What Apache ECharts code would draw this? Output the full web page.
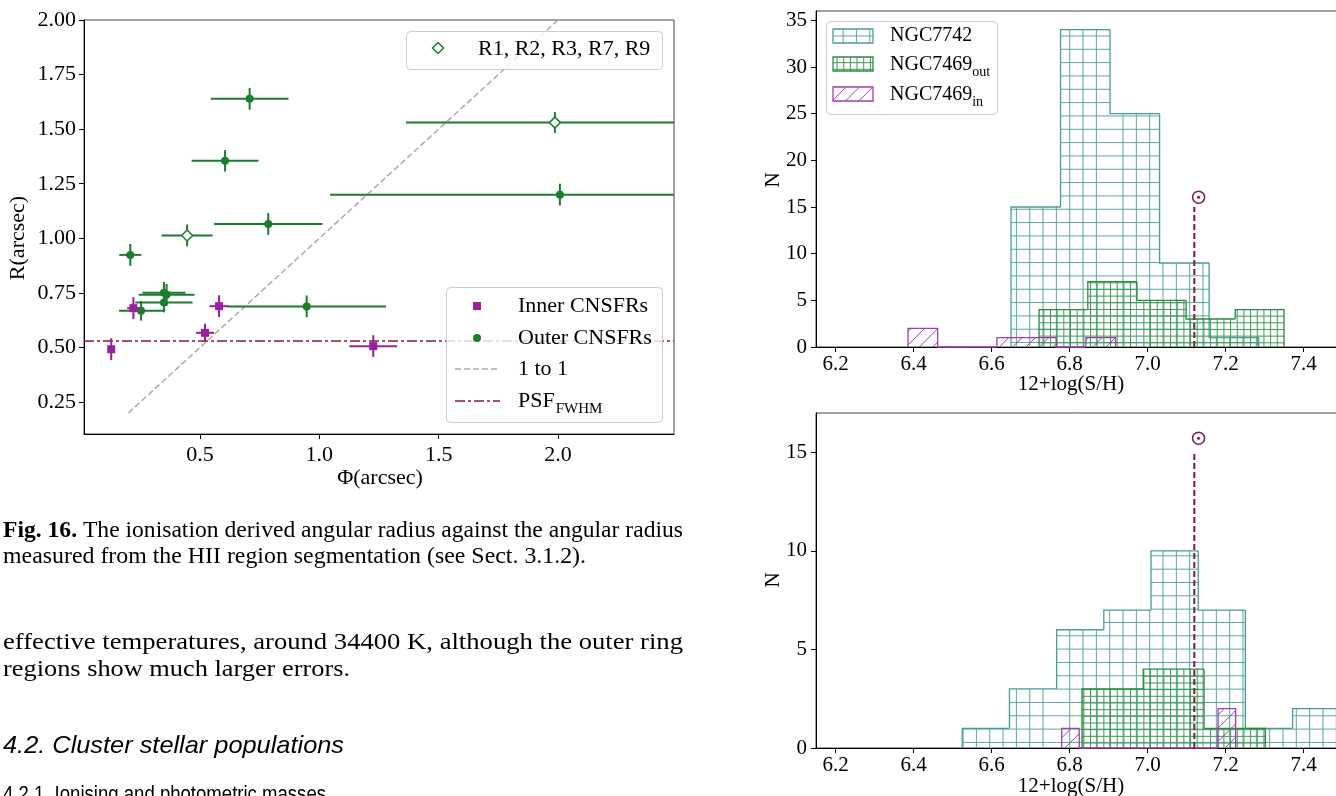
<!DOCTYPE html>
<html><head><meta charset="utf-8">
<script src="https://cdn.jsdelivr.net/npm/echarts@6/dist/echarts.min.js"></script>
<style>html,body{margin:0;padding:0;background:#fff}#c{width:1336px;height:796px}</style>
</head><body><div id="c"></div>
<script>
// ---------------- DATA: left scatter (Fig. 16) ----------------
const outerX    = [0.708, 0.605, 0.786, 2.008, 0.208, 0.349, 0.360, 0.349, 0.253, 0.947];
const outerY    = [1.639, 1.355, 1.066, 1.200, 0.924, 0.750, 0.741, 0.706, 0.668, 0.688];
const outerXErr = [0.163, 0.140, 0.227, 0.963, 0.046, 0.090, 0.117, 0.120, 0.092, 0.332];
const outerYErr = [0.050, 0.049, 0.050, 0.050, 0.050, 0.050, 0.050, 0.045, 0.045, 0.050];
const openX     = [0.446, 1.987];
const openY     = [1.013, 1.530];
const openXErr  = [0.107, 0.624];
const openYErr  = [0.050, 0.048];
const innerX    = [0.128, 0.221, 0.521, 0.580, 1.226];
const innerY    = [0.492, 0.680, 0.567, 0.689, 0.506];
const innerXErr = [0.000, 0.026, 0.038, 0.040, 0.100];
const innerYErr = [0.050, 0.050, 0.042, 0.050, 0.050];
const oneToOneX = [0.2, 2.5];
const oneToOneY = [0.2, 2.5];
const psfX      = [0.014, 2.486];
const psfY      = 0.53;
const scatterXTicks = [0.5, 1.0, 1.5, 2.0];
const scatterYTicks = [0.25, 0.50, 0.75, 1.00, 1.25, 1.50, 1.75, 2.00];
const scatterXRange = [0.014, 2.486];
const scatterYRange = [0.1035, 2.0];

// ---------------- DATA: histograms ----------------
const histXTicks = [6.2, 6.4, 6.6, 6.8, 7.0, 7.2, 7.4];
const histXRange = [6.15, 7.55];
const topYTicks = [0, 5, 10, 15, 20, 25, 30, 35];
const topYRange = [0, 36];
const botYTicks = [0, 5, 10, 15];
const botYRange = [0, 17];
// top panel
const topTealEdges = [6.650, 6.777, 6.904, 7.031, 7.158, 7.285];
const topTealCounts = [15, 34, 25, 9, 1];
const topGreenEdges = [6.722, 6.847, 6.973, 7.099, 7.225, 7.350];
const topGreenCounts = [4, 7, 5, 3, 4];
const topMagEdges = [6.386, 6.462, 6.538, 6.614, 6.690, 6.766, 6.842, 6.918];
const topMagCounts = [2, 0, 0, 1, 1, 0, 1];
// bottom panel
const botTealEdges = [6.525, 6.646, 6.767, 6.888, 7.009, 7.130, 7.251, 7.372, 7.493];
const botTealCounts = [1, 3, 6, 7, 10, 7, 1, 2];
const botGreenEdges = [6.832, 6.989, 7.145, 7.302];
const botGreenCounts = [3, 4, 1];
const botMagEdges = [6.780, 6.825, 6.869, 6.914, 6.958, 7.003, 7.048, 7.092, 7.137, 7.181, 7.226];
const botMagCounts = [1, 0, 0, 0, 0, 0, 0, 0, 0, 2];
// solar value
const sunX = 7.12;
const sunLineTop = 15;
const sunMarkX = 7.131;
const sunMarkYTop = 16.05;
const sunMarkYBot = 15.72;

// ---------------- styles ----------------
const GREEN = '#1c7c2e', MAG = '#9a1f9c', PSFC = '#8b1a3d', GREY = '#aaaaaa';
const TEAL = '#4a9d95', TEALH = '#5aa8a0', HGREEN = '#2f8a41', HGREENH = '#3f9a50', HMAG = '#a53cb0';
const SUN = '#7b1d3f';
const SERIF = '"Liberation Serif", "Times New Roman", serif';

const mctx = document.createElement('canvas').getContext('2d');
function tw(text, font) { mctx.font = font; return mctx.measureText(text).width; }

function hatchSegs(x0, x1, yt, yb, type, s) {
  const xo = 3.3, yo = 9.3, out = [];
  if (type === 'grid') {
    for (let x = Math.ceil((x0 - xo) / s) * s + xo; x < x1 - 0.5; x += s) {
      if (x <= x0 + 0.5) continue;
      out.push([x, yt, x, yb]);
    }
    for (let y = Math.ceil((yt - yo) / s) * s + yo; y < yb - 0.5; y += s) {
      if (y <= yt + 0.5) continue;
      out.push([x0, y, x1, y]);
    }
  } else {
    for (let c = Math.ceil((x0 + yt) / s) * s; c < x1 + yb; c += s) {
      const xa = Math.max(x0, c - yb), xb = Math.min(x1, c - yt);
      if (xb - xa > 0.5) out.push([xa, c - xa, xb, c - xb]);
    }
  }
  return out;
}

function histItems(edges, counts) {
  return counts.map((c, i) => [edges[i], edges[i + 1], c, i > 0 ? counts[i - 1] : 0, i === counts.length - 1 ? 1 : 0]);
}
function histRender(color, hcolor, type, s) {
  return function (params, api) {
    const lo = api.value(0), hi = api.value(1), c = api.value(2), prev = api.value(3), last = api.value(4);
    const pb = api.coord([lo, 0]), pt = api.coord([hi, c]), pp = api.coord([lo, prev]);
    const x0 = pb[0], x1 = pt[0], yb = pb[1], yt = pt[1];
    const pts = [[x0, pp[1]], [x0, yt], [x1, yt]];
    if (last) pts.push([x1, yb]);
    const children = [];
    if (c > 0) hatchSegs(x0, x1, yt, yb, type, s).forEach(g => children.push({ type: 'line', shape: { x1: g[0], y1: g[1], x2: g[2], y2: g[3] }, style: { stroke: hcolor, lineWidth: 1 } }));
    children.push({ type: 'polyline', shape: { points: pts }, style: { stroke: color, lineWidth: 1.3, fill: null } });
    return { type: 'group', children };
  };
}

function errItems(xs, ys, xe, ye) { return xs.map((x, i) => [x, ys[i], xe[i], ye[i]]); }
function errRender(color) {
  return function (params, api) {
    const x = api.value(0), y = api.value(1), ex = api.value(2), ey = api.value(3);
    const a = api.coord([x - ex, y]), b = api.coord([x + ex, y]), c = api.coord([x, y - ey]), d = api.coord([x, y + ey]);
    const ch = [];
    if (ex > 0) ch.push({ type: 'line', shape: { x1: a[0], y1: a[1], x2: b[0], y2: b[1] }, style: { stroke: color, lineWidth: 2 } });
    ch.push({ type: 'line', shape: { x1: c[0], y1: c[1], x2: d[0], y2: d[1] }, style: { stroke: color, lineWidth: 2 } });
    return { type: 'group', children: ch };
  };
}

function xAx(gi, range, ticks, digits, fs, margin) {
  return {
    type: 'value', gridIndex: gi, min: range[0], max: range[1], splitLine: { show: false },
    axisLine: { show: true, onZero: false, lineStyle: { color: '#000', width: 1 } },
    axisTick: { show: true, inside: false, length: 5, customValues: ticks, lineStyle: { color: '#000', width: 1 } },
    axisLabel: { show: true, customValues: ticks, formatter: v => (+v).toFixed(digits), color: '#000', fontSize: fs, fontFamily: SERIF, margin: margin }
  };
}
const yAx = xAx;

// ---------------- graphic (text, legends) ----------------
function T(text, x, y, o) {
  o = o || {};
  return {
    type: 'text', x: x, y: y, rotation: o.rot || 0, scaleX: o.sx || 1, silent: true, z: 100,
    style: { text: text, fill: '#000', font: o.font || ('22px ' + SERIF),
      textAlign: o.align || 'left', align: o.align || 'left',
      textVerticalAlign: o.va || 'middle', verticalAlign: o.va || 'middle' }
  };
}
const G = [];
G.push(T('R(arcsec)', 18, 238, { rot: Math.PI / 2, align: 'center' }));
G.push(T('Φ(arcsec)', 380, 478, { align: 'center' }));
G.push(T('N', 773, 180, { rot: Math.PI / 2, align: 'center', font: '21px ' + SERIF }));
G.push(T('N', 773, 580, { rot: Math.PI / 2, align: 'center', font: '21px ' + SERIF }));
G.push(T('12+log(S/H)', 1071, 384, { align: 'center', font: '21px ' + SERIF }));
G.push(T('12+log(S/H)', 1071, 786, { align: 'center', font: '21px ' + SERIF }));

// left legends
G.push({ type: 'rect', z: 90, silent: true, shape: { x: 406.5, y: 31.5, width: 256, height: 38, r: 4 }, style: { fill: 'rgba(255,255,255,0.8)', stroke: '#cccccc', lineWidth: 1 } });
G.push({ type: 'polygon', z: 95, silent: true, shape: { points: [[438, 42.5], [443.5, 48], [438, 53.5], [432.5, 48]] }, style: { fill: '#fff', stroke: GREEN, lineWidth: 1.5 } });
G.push(T('R1, R2, R3, R7, R9', 478, 49));
G.push({ type: 'rect', z: 90, silent: true, shape: { x: 446.5, y: 287.5, width: 216, height: 135, r: 4 }, style: { fill: 'rgba(255,255,255,0.8)', stroke: '#cccccc', lineWidth: 1 } });
G.push({ type: 'rect', z: 95, silent: true, shape: { x: 473, y: 302, width: 8, height: 8 }, style: { fill: MAG } });
G.push({ type: 'circle', z: 95, silent: true, shape: { cx: 477, cy: 338, r: 4 }, style: { fill: GREEN } });
G.push({ type: 'line', z: 95, silent: true, shape: { x1: 455, y1: 369, x2: 500, y2: 369 }, style: { stroke: GREY, lineWidth: 1.5, lineDash: [6, 3] } });
G.push({ type: 'line', z: 95, silent: true, shape: { x1: 455, y1: 401, x2: 500, y2: 401 }, style: { stroke: PSFC, lineWidth: 1.5, lineDash: [10, 3, 3, 3] } });
G.push(T('Inner CNSFRs', 518, 306));
G.push(T('Outer CNSFRs', 518, 338));
G.push(T('1 to 1', 518, 369));
G.push(T('PSF', 518, 401));
G.push(T('FWHM', 518 + tw('PSF', '22px ' + SERIF) + 1, 409, { font: '15px ' + SERIF }));

// histogram legend
G.push({ type: 'rect', z: 90, silent: true, shape: { x: 826.5, y: 21.5, width: 171, height: 93, r: 4 }, style: { fill: 'rgba(255,255,255,0.8)', stroke: '#cccccc', lineWidth: 1 } });
[[29, TEAL, TEALH, 'grid', 13.33], [57, HGREEN, HGREENH, 'grid', 6.67], [87, HMAG, HMAG, 'diag', 13.33]].forEach(r => {
  hatchSegs(833, 873, r[0], r[0] + 14, r[3], r[4]).forEach(g => G.push({ type: 'line', z: 95, silent: true, shape: { x1: g[0], y1: g[1], x2: g[2], y2: g[3] }, style: { stroke: r[2], lineWidth: 1 } }));
  G.push({ type: 'rect', z: 96, silent: true, shape: { x: 833, y: r[0], width: 40, height: 14 }, style: { stroke: r[1], lineWidth: 1.3, fill: 'transparent' } });
});
const LF = '20px ' + SERIF;
G.push(T('NGC7742', 890, 36, { font: LF }));
G.push(T('NGC7469', 890, 64.5, { font: LF }));
G.push(T('out', 890 + tw('NGC7469', LF), 72, { font: '14px ' + SERIF }));
G.push(T('NGC7469', 890, 94.5, { font: LF }));
G.push(T('in', 890 + tw('NGC7469', LF), 102, { font: '14px ' + SERIF }));

// page text
const CF = '23px ' + SERIF, CFB = 'bold 23px ' + SERIF;
(function () {
  const b = 'Fig. 16.', r = ' The ionisation derived angular radius against the angular radius';
  const wb = tw(b, CFB), wr = tw(r, CF), sx = 680 / (wb + wr);
  G.push(T(b, 3, 531, { font: CFB, sx: sx }));
  G.push(T(r, 3 + wb * sx, 531, { font: CF, sx: sx }));
})();
function line(text, x, y, font, target) { G.push(T(text, x, y, { font: font, sx: target / tw(text, font) })); }
line('measured from the HII region segmentation (see Sect. 3.1.2).', 3, 557, CF, 583);
line('effective temperatures, around 34400 K, although the outer ring', 3, 643, CF, 680);
line('regions show much larger errors.', 3, 670, CF, 347);
line('4.2. Cluster stellar populations', 3, 746, 'italic 24px "Liberation Sans", sans-serif', 341);
line('4.2.1. Ionising and photometric masses', 3, 795, '22px "Liberation Sans", sans-serif', 323);

// ---------------- option ----------------
const gridCommon = { show: true, borderColor: '#444', borderWidth: 1, backgroundColor: 'transparent', containLabel: false, outerBoundsMode: 'none' };
const option = {
  animation: false,
  backgroundColor: '#fff',
  grid: [
    Object.assign({ left: 84, top: 20, width: 590, height: 414 }, gridCommon),
    Object.assign({ left: 816, top: 11, width: 546, height: 336 }, gridCommon),
    Object.assign({ left: 816, top: 413, width: 546, height: 335 }, gridCommon)
  ],
  xAxis: [
    xAx(0, scatterXRange, scatterXTicks, 1, 22, 10),
    xAx(1, histXRange, histXTicks, 1, 21, 7),
    xAx(2, histXRange, histXTicks, 1, 21, 7)
  ],
  yAxis: [
    yAx(0, scatterYRange, scatterYTicks, 2, 22, 8),
    yAx(1, topYRange, topYTicks, 0, 21, 9),
    yAx(2, botYRange, botYTicks, 0, 21, 9)
  ],
  graphic: { elements: G },
  series: [
    { type: 'line', xAxisIndex: 0, yAxisIndex: 0, z: 1, silent: true, symbol: 'none', clip: true,
      data: oneToOneX.map((x, i) => [x, oneToOneY[i]]), lineStyle: { color: GREY, width: 1.5, type: [6, 3] } },
    { type: 'line', xAxisIndex: 0, yAxisIndex: 0, z: 1, silent: true, symbol: 'none', clip: true,
      data: psfX.map(x => [x, psfY]), lineStyle: { color: PSFC, width: 1.5, type: [10, 3, 3, 3] } },
    { type: 'custom', xAxisIndex: 0, yAxisIndex: 0, z: 2, silent: true, clip: true, encode: { x: 0, y: 1 },
      data: errItems(outerX, outerY, outerXErr, outerYErr).concat(errItems(openX, openY, openXErr, openYErr)), renderItem: errRender(GREEN) },
    { type: 'scatter', xAxisIndex: 0, yAxisIndex: 0, z: 3, silent: true, symbol: 'circle', symbolSize: 8,
      data: outerX.map((x, i) => [x, outerY[i]]), itemStyle: { color: GREEN, opacity: 1 } },
    { type: 'scatter', xAxisIndex: 0, yAxisIndex: 0, z: 3, silent: true, symbol: 'diamond', symbolSize: 11,
      data: openX.map((x, i) => [x, openY[i]]), itemStyle: { color: '#fff', borderColor: GREEN, borderWidth: 1.5, opacity: 1 } },
    { type: 'custom', xAxisIndex: 0, yAxisIndex: 0, z: 4, silent: true, clip: true, encode: { x: 0, y: 1 },
      data: errItems(innerX, innerY, innerXErr, innerYErr), renderItem: errRender(MAG) },
    { type: 'scatter', xAxisIndex: 0, yAxisIndex: 0, z: 5, silent: true, symbol: 'rect', symbolSize: 8,
      data: innerX.map((x, i) => [x, innerY[i]]), itemStyle: { color: MAG, opacity: 1 } },

    { type: 'custom', xAxisIndex: 1, yAxisIndex: 1, z: 2, silent: true, encode: { x: [0, 1], y: 2 },
      data: histItems(topTealEdges, topTealCounts), renderItem: histRender(TEAL, TEALH, 'grid', 13.33) },
    { type: 'custom', xAxisIndex: 1, yAxisIndex: 1, z: 3, silent: true, encode: { x: [0, 1], y: 2 },
      data: histItems(topGreenEdges, topGreenCounts), renderItem: histRender(HGREEN, HGREENH, 'grid', 6.67) },
    { type: 'custom', xAxisIndex: 1, yAxisIndex: 1, z: 4, silent: true, encode: { x: [0, 1], y: 2 },
      data: histItems(topMagEdges, topMagCounts), renderItem: histRender(HMAG, HMAG, 'diag', 13.33) },
    { type: 'line', xAxisIndex: 1, yAxisIndex: 1, z: 5, silent: true, symbol: 'none',
      data: [[sunX, 0], [sunX, sunLineTop]], lineStyle: { color: SUN, width: 2, type: [6, 3] } },
    { type: 'scatter', xAxisIndex: 1, yAxisIndex: 1, z: 5, silent: true, symbol: 'circle', symbolSize: 12,
      data: [[sunMarkX, sunMarkYTop]], itemStyle: { color: '#fff', borderColor: SUN, borderWidth: 1.5, opacity: 1 } },
    { type: 'scatter', xAxisIndex: 1, yAxisIndex: 1, z: 6, silent: true, symbol: 'circle', symbolSize: 3,
      data: [[sunMarkX, sunMarkYTop]], itemStyle: { color: SUN, opacity: 1 } },

    { type: 'custom', xAxisIndex: 2, yAxisIndex: 2, z: 2, silent: true, encode: { x: [0, 1], y: 2 },
      data: histItems(botTealEdges, botTealCounts), renderItem: histRender(TEAL, TEALH, 'grid', 13.33) },
    { type: 'custom', xAxisIndex: 2, yAxisIndex: 2, z: 3, silent: true, encode: { x: [0, 1], y: 2 },
      data: histItems(botGreenEdges, botGreenCounts), renderItem: histRender(HGREEN, HGREENH, 'grid', 6.67) },
    { type: 'custom', xAxisIndex: 2, yAxisIndex: 2, z: 4, silent: true, encode: { x: [0, 1], y: 2 },
      data: histItems(botMagEdges, botMagCounts), renderItem: histRender(HMAG, HMAG, 'diag', 13.33) },
    { type: 'line', xAxisIndex: 2, yAxisIndex: 2, z: 5, silent: true, symbol: 'none',
      data: [[sunX, 0], [sunX, sunLineTop]], lineStyle: { color: SUN, width: 2, type: [6, 3] } },
    { type: 'scatter', xAxisIndex: 2, yAxisIndex: 2, z: 5, silent: true, symbol: 'circle', symbolSize: 12,
      data: [[sunMarkX, sunMarkYBot]], itemStyle: { color: '#fff', borderColor: SUN, borderWidth: 1.5, opacity: 1 } },
    { type: 'scatter', xAxisIndex: 2, yAxisIndex: 2, z: 6, silent: true, symbol: 'circle', symbolSize: 3,
      data: [[sunMarkX, sunMarkYBot]], itemStyle: { color: SUN, opacity: 1 } }
  ]
};
const chart = echarts.init(document.getElementById('c'), null, { renderer: 'canvas', width: 1336, height: 796 });
chart.setOption(option);
</script>
</body></html>
